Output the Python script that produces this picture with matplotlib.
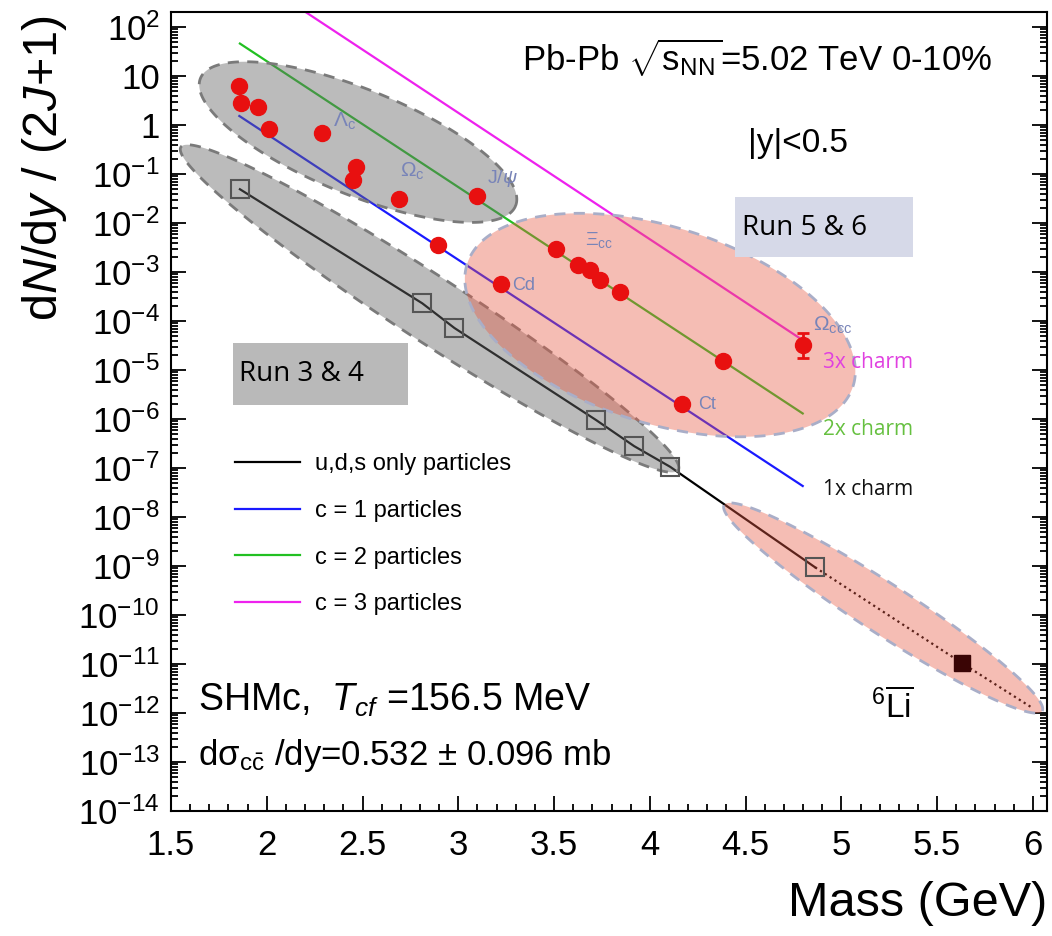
import numpy as np
import matplotlib
matplotlib.use('Agg')
import matplotlib.pyplot as plt
from matplotlib.patches import Polygon, Rectangle
from matplotlib.ticker import MultipleLocator, LogLocator, NullFormatter

plt.rcParams['font.family'] = ['Liberation Sans', 'DejaVu Sans']
plt.rcParams['mathtext.fontset'] = 'custom'
plt.rcParams['mathtext.rm'] = 'Liberation Sans'
plt.rcParams['mathtext.it'] = 'Liberation Sans:italic'
plt.rcParams['mathtext.bf'] = 'Liberation Sans:bold'

# measured charmed hadrons (red points)
charm_mass = [1.857, 1.866, 1.956, 2.012, 2.287, 2.464, 2.452, 2.689, 3.096,
              2.893, 3.223, 3.509, 3.624, 3.688, 3.740, 3.845, 4.380, 4.167]
charm_yield = [6.25, 2.77, 2.3, 0.82, 0.70, 0.141, 0.0755, 0.0304, 0.0356,
               0.00356, 5.7e-4, 3.0e-3, 1.39e-3, 1.1e-3, 6.9e-4, 4.0e-4, 1.55e-5, 2.0e-6]
omega_ccc_mass = [4.799]
omega_ccc_yield = [3.2e-5]
omega_ccc_err_lo = [1.44e-5]
omega_ccc_err_hi = [2.5e-5]

# u,d,s only particles (open squares + line)
uds_mass = [1.86, 2.812, 2.98, 3.72, 3.918, 4.106, 4.863]
uds_yield = [0.049, 2.3e-4, 7.2e-5, 9.5e-7, 2.8e-7, 1.06e-7, 9.4e-10]
ext_mass = [4.863, 5.632, 6.0]
ext_yield = [9.4e-10, 1.03e-11, 1.25e-12]
li_mass = [5.632]
li_yield = [1.03e-11]

# SHMc trend lines
c1_mass = [1.857, 4.798]
c1_yield = [1.53, 4.3e-8]
c2_mass = [1.86, 4.798]
c2_yield = [46.0, 1.3e-6]
c3_mass = [2.15, 4.785]
c3_yield = [277.0, 4.4e-5]

legend_labels = ['u,d,s only particles', 'c = 1 particles', 'c = 2 particles', 'c = 3 particles']

ytick_exp = list(range(-14, 3))
ytick_labels = ['$10^{%d}$' % e if e not in (0, 1) else ('1' if e == 0 else '10') for e in ytick_exp]

# ellipses: tip1, tip2 (data), minor/major ratio in screen space
ellipses = [
    ((1.654, 9.0), (3.299, 0.0224), 0.31, '#6a6a6a', 0.45, '#7a7a7a'),
    ((1.552, 0.356), (4.148, 9.1e-8), 0.11, '#6a6a6a', 0.45, '#7a7a7a'),
    ((3.046, 1.46e-3), (5.061, 4.7e-6), 0.485, '#e85a45', 0.40, '#a9aec8'),
    ((4.388, 1.76e-8), (6.048, 1.1e-12), 0.132, '#e85a45', 0.40, '#a9aec8'),
]

fig = plt.figure(figsize=(10.52, 9.36), dpi=100)
ax = fig.add_axes([0.1625, 0.1335, 0.8327, 0.8536])
ax.set_yscale('log')
ax.set_xlim(1.5, 6.073)
ax.set_ylim(1e-14, 202)

l_uds, = ax.plot(uds_mass, uds_yield, color='black', lw=1.6, zorder=2)
ax.plot(ext_mass, ext_yield, color='black', lw=1.6, ls=(0, (1, 1.6)), zorder=2)
l_c1, = ax.plot(c1_mass, c1_yield, color='#1a1aff', lw=1.6, zorder=2)
l_c2, = ax.plot(c2_mass, c2_yield, color='#22c022', lw=1.6, zorder=2)
l_c3, = ax.plot(c3_mass, c3_yield, color='#ee22ee', lw=1.6, zorder=2)

def add_ellipse(tip1, tip2, ratio, fc, alpha, ec):
    p1 = ax.transData.transform(tip1)
    p2 = ax.transData.transform(tip2)
    c = (p1 + p2) / 2
    d = (p2 - p1) / 2
    n = np.array([-d[1], d[0]]) * ratio
    t = np.linspace(0, 2 * np.pi, 300)
    pts = c + np.outer(np.cos(t), d) + np.outer(np.sin(t), n)
    verts = ax.transData.inverted().transform(pts)
    ax.add_patch(Polygon(verts, closed=True, facecolor=fc, alpha=alpha, edgecolor='none', zorder=3))
    ax.add_patch(Polygon(verts, closed=True, facecolor='none', edgecolor=ec, lw=2,
                         ls=(0, (4, 3)), zorder=3))

for e in ellipses:
    add_ellipse(*e)

ax.plot(uds_mass, uds_yield, ls='none', marker='s', ms=12.5, mfc='none', mec='#555555', mew=1.5, zorder=4)
ax.plot(li_mass, li_yield, ls='none', marker='s', ms=11, color='#3a0505', zorder=4)
ax.plot(charm_mass, charm_yield, ls='none', marker='o', ms=11.5, color='#e81010', zorder=5)
ax.errorbar(omega_ccc_mass, omega_ccc_yield, yerr=[omega_ccc_err_lo, omega_ccc_err_hi],
            fmt='o', ms=11.5, color='#e81010', elinewidth=2, capsize=4, capthick=2, zorder=5)

# particle names
pc = '#7884b8'
ax.text(2.346, 1.17, r'$\Lambda_\mathrm{c}$', color=pc, fontsize=15, va='center', zorder=6)
ax.text(2.696, 0.111, r'$\Omega_\mathrm{c}$', color=pc, fontsize=15, va='center', zorder=6)
ax.text(3.149, 0.083, r'J/$\psi$', color=pc, fontsize=14, va='center', zorder=6)
ax.text(3.662, 4.5e-3, r'$\Xi_\mathrm{cc}$', color=pc, fontsize=14, va='center', zorder=6)
ax.text(3.279, 5.2e-4, 'Cd', color=pc, fontsize=13, va='center', zorder=6)
ax.text(4.252, 2.0e-6, 'Ct', color=pc, fontsize=13, va='center', zorder=6)
ax.text(4.853, 8.3e-5, r'$\Omega_\mathrm{ccc}$', color=pc, fontsize=15, va='center', zorder=6)

ax.text(4.905, 1.4e-5, '3x charm', color='#e040e0', fontsize=15, family='Open Sans', va='center')
ax.text(4.905, 6.0e-7, '2x charm', color='#66c040', fontsize=15, family='Open Sans', va='center')
ax.text(4.905, 3.6e-8, '1x charm', color='#111111', fontsize=15, family='Open Sans', va='center')

ax.text(5.155, 1.4e-12, r'$^{6}\overline{\mathrm{Li}}$', fontsize=24, va='center')

# run boxes
ax.add_patch(Rectangle((0.0708, 0.5081), 0.1997, 0.0776, transform=ax.transAxes,
                       facecolor='#b9b9b9', edgecolor='none', zorder=6))
ax.text(0.0776, 0.547, 'Run 3 & 4', transform=ax.transAxes, fontsize=20, family='Open Sans',
        va='center', zorder=7)
ax.add_patch(Rectangle((0.6438, 0.6934), 0.2032, 0.0751, transform=ax.transAxes,
                       facecolor='#d6d9e8', edgecolor='none', zorder=6))
ax.text(0.652, 0.7297, 'Run 5 & 6', transform=ax.transAxes, fontsize=20, family='Open Sans',
        va='center', zorder=7)

ax.text(0.938, 0.942, r'Pb-Pb $\sqrt{\mathrm{s}_{\mathrm{NN}}}$=5.02 TeV 0-10%', transform=ax.transAxes,
        fontsize=25, ha='right', va='center')
ax.text(0.659, 0.836, '|y|<0.5', transform=ax.transAxes, fontsize=24, va='center')
ax.text(0.031, 0.139, r'SHMc,  $T_{cf}$ =156.5 MeV', transform=ax.transAxes, fontsize=27, va='center')
ax.text(0.031, 0.070, r'dσ$_{\mathrm{c\bar{c}}}$ /dy=0.532 ± 0.096 mb', transform=ax.transAxes,
        fontsize=25, va='center')

ax.legend([l_uds, l_c1, l_c2, l_c3], legend_labels, loc='upper left', bbox_to_anchor=(0.073, 0.448),
          frameon=False, fontsize=17, handlelength=2.75, handletextpad=0.64, labelspacing=1.05,
          borderaxespad=0, borderpad=0)

ax.set_yticks([10.0 ** e for e in ytick_exp], ytick_labels)
ax.yaxis.set_minor_locator(LogLocator(base=10, subs=np.arange(2, 10), numticks=40))
ax.yaxis.set_minor_formatter(NullFormatter())
ax.xaxis.set_major_locator(MultipleLocator(0.5))
ax.xaxis.set_minor_locator(MultipleLocator(0.1))
ax.xaxis.set_major_formatter(plt.FuncFormatter(lambda v, p: '%g' % v))
ax.tick_params(which='both', direction='in', top=False, right=True, labelsize=25, width=1.3)
ax.tick_params(which='major', length=11, pad=8)
ax.tick_params(axis='x', which='major', pad=13)
ax.tick_params(which='minor', length=5)
for s in ax.spines.values():
    s.set_linewidth(1.5)

ax.set_xlabel('Mass (GeV)', fontsize=35, loc='right')
ax.xaxis.set_label_coords(1.0, -0.088)
ax.set_ylabel(r'd$N$/d$y$ / (2$J$+1)', fontsize=35, loc='top')
ax.yaxis.label.set_va('center')
ax.yaxis.set_label_coords(-0.1438, 0.996)

fig.savefig('out.png', dpi=100)
